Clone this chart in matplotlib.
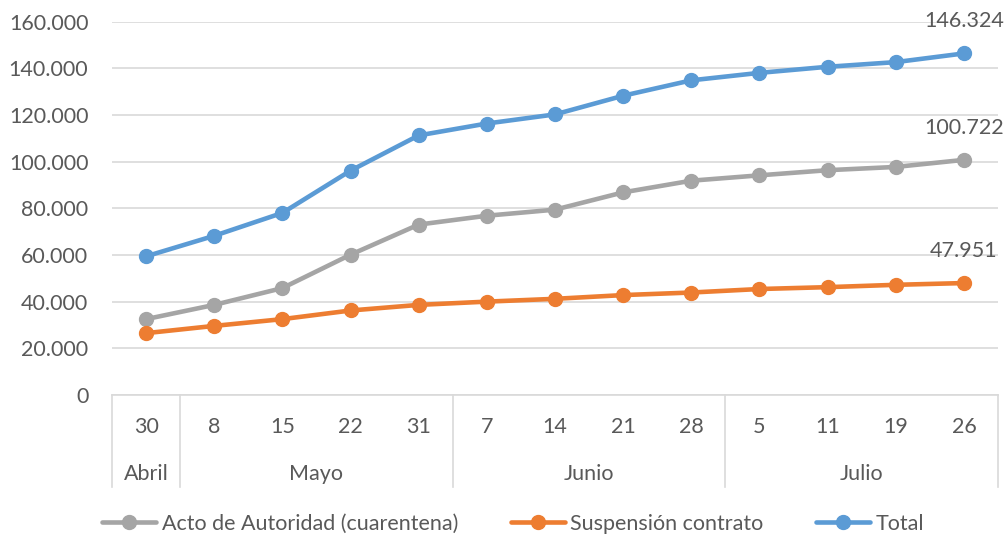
import matplotlib
matplotlib.use('Agg')
import matplotlib.pyplot as plt
import matplotlib.transforms as mtransforms
from matplotlib.ticker import FuncFormatter

# datos
dias = ["30", "8", "15", "22", "31", "7", "14", "21", "28", "5", "11", "19", "26"]
meses = ["Abril", "Mayo", "Junio", "Julio"]
dias_por_mes = [1, 4, 4, 4]

acto_autoridad = [32500, 38600, 45800, 60100, 73000, 76800, 79400, 86800, 91800, 94100, 96300, 97700, 100722]
suspension = [26500, 29600, 32500, 36200, 38600, 40000, 41200, 42800, 43900, 45400, 46200, 47200, 47951]
total = [59400, 68200, 78000, 96100, 111200, 116300, 120200, 128200, 134800, 138000, 140600, 142600, 146324]

series = [
    ("Acto de Autoridad (cuarentena)", acto_autoridad, "#a5a5a5"),
    ("Suspensión contrato", suspension, "#ed7d31"),
    ("Total", total, "#5b9bd5"),
]

plt.rcParams['font.family'] = ['Lato', 'DejaVu Sans']
texto = "#595959"
grilla = "#d9d9d9"
tam = 15.5

fig = plt.figure(figsize=(10.06, 5.37), dpi=100)
ax = fig.add_axes([112 / 1006, 1 - 395 / 537, (998 - 112) / 1006, (395 - 21.5) / 537])

x = list(range(len(dias)))
for nombre, valores, color in series:
    ax.plot(x, valores, color=color, linewidth=3.3, marker='o', markersize=10,
            label=nombre, solid_capstyle='round', zorder=3)
    ax.annotate(f"{valores[-1]:,}".replace(",", "."), (x[-1], valores[-1]),
                textcoords="offset points", xytext=(0, 23), ha='center', va='center',
                fontsize=tam, color=texto)

ax.set_xlim(-0.5, len(dias) - 0.5)
ax.set_ylim(0, 160000)
ax.set_yticks(range(0, 160001, 20000))
ax.yaxis.set_major_formatter(FuncFormatter(lambda v, p: f"{int(v):,}".replace(",", ".")))
ax.grid(axis='y', color=grilla, linewidth=1.2)
ax.set_axisbelow(True)
for lado in ['top', 'right', 'left']:
    ax.spines[lado].set_visible(False)
ax.spines['bottom'].set_color(grilla)
ax.spines['bottom'].set_linewidth(1.2)
ax.tick_params(axis='y', length=0, pad=17, labelsize=tam, labelcolor=texto)
ax.set_xticks(x)
ax.set_xticklabels(dias)
ax.tick_params(axis='x', length=0, pad=16, labelsize=tam, labelcolor=texto)

# eje de categorías en dos niveles
trans = mtransforms.blended_transform_factory(ax.transData, ax.transAxes)
y_fondo = -(487 - 395) / (395 - 21.5)
y_mes = -(474 - 395) / (395 - 21.5)
inicio = 0
bordes = [-0.5]
for mes, n in zip(meses, dias_por_mes):
    centro = inicio + (n - 1) / 2
    ax.text(centro, y_mes, mes, transform=trans, ha='center', va='center',
            fontsize=tam, color=texto)
    inicio += n
    bordes.append(inicio - 0.5)
for b in bordes:
    ax.plot([b, b], [0, y_fondo], transform=trans, color=grilla, linewidth=1.2,
            clip_on=False)

fig.legend(loc='lower center', bbox_to_anchor=(0.51, -0.03), ncol=3, frameon=False,
           fontsize=tam, labelcolor=texto, handlelength=2.5, handletextpad=0.25,
           columnspacing=2.45)

fig.savefig("out.png", dpi=100)
